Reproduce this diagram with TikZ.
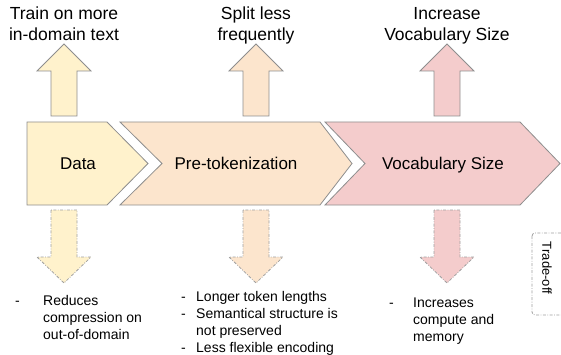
\documentclass[tikz,border=0pt]{standalone}
\usepackage{fontspec}
\setmainfont{Liberation Sans}
\usetikzlibrary{calc}

\definecolor{datafill}{HTML}{FFF2CC}
\definecolor{pretokfill}{HTML}{FCE5CD}
\definecolor{vocabfill}{HTML}{F4CCCC}
\definecolor{edgegray}{HTML}{8E8E8E}
\definecolor{dashgray}{HTML}{A0A0A0}

\tikzset{
  stage/.style={draw=edgegray, line width=0.8pt, line join=miter},
  dashdot/.style={draw=dashgray, line width=0.8pt, dash pattern=on 3pt off 1.5pt on 0.8pt off 1.5pt},
  toptext/.style={anchor=base, inner sep=0pt, font=\fontsize{17.5}{21}\selectfont},
  stagetext/.style={anchor=base, inner sep=0pt, font=\fontsize{17}{20}\selectfont},
  bullettext/.style={anchor=base west, inner sep=0pt, font=\fontsize{14}{17}\selectfont},
}

% block arrows: #1 = centre x, #2 = fill
\newcommand{\upblock}[2]{%
  \filldraw[stage, fill=#2] (#1-13,116) -- (#1-13,71) -- (#1-27,71) -- (#1,44)
    -- (#1+27,71) -- (#1+13,71) -- (#1+13,116) -- cycle;}
\newcommand{\downblock}[2]{%
  \filldraw[dashdot, fill=#2] (#1-13,210) -- (#1-13,257) -- (#1-27,257) -- (#1,283)
    -- (#1+27,257) -- (#1+13,257) -- (#1+13,210) -- cycle;}

\begin{document}
\begin{tikzpicture}[x=1pt, y=-1pt]
  \useasboundingbox (0,0) rectangle (561,355);

  % stages
  \filldraw[stage, fill=datafill] (27,122) -- (107,122) -- (148,163.5) -- (107,205) -- (27,205) -- cycle;
  \filldraw[stage, fill=pretokfill] (120,122) -- (320,122) -- (352,163.5) -- (320,205) -- (120,205) -- (162,163.5) -- cycle;
  \filldraw[stage, fill=vocabfill] (325,122) -- (520,122) -- (560,163.5) -- (520,205) -- (325,205) -- (365,163.5) -- cycle;
  \node[stagetext] (data) at (78,170) {Data};
  \node[stagetext] (pretok) at (236,170) {Pre-tokenization};
  \node[stagetext] (vocab) at (443,170) {Vocabulary Size};

  % up arrows and what they do
  \upblock{64}{datafill}
  \upblock{256}{pretokfill}
  \upblock{447}{vocabfill}
  \node[toptext] (dataup) at (64,20) {\begin{tabular}[t]{@{}c@{}}Train on more\\in-domain text\end{tabular}};
  \node[toptext] (pretokup) at (256,20) {\begin{tabular}[t]{@{}c@{}}Split less\\frequently\end{tabular}};
  \node[toptext] (vocabup) at (447,20) {\begin{tabular}[t]{@{}c@{}}Increase\\Vocabulary Size\end{tabular}};

  % down arrows and their costs
  \downblock{64}{datafill}
  \downblock{256}{pretokfill}
  \downblock{447}{vocabfill}
  \node[bullettext] (datadown) at (15,305) {\begin{tabular}[t]{@{}p{28pt}@{}l@{}}
    - & Reduces\\ & compression on\\ & out-of-domain\end{tabular}};
  \node[bullettext] (pretokdown) at (181,301) {\begin{tabular}[t]{@{}p{15pt}@{}l@{}}
    - & Longer token lengths\\ - & Semantical structure is\\ & not preserved\\ - & Less flexible encoding\end{tabular}};
  \node[bullettext] (vocabdown) at (389,307) {\begin{tabular}[t]{@{}p{24pt}@{}l@{}}
    - & Increases\\ & compute and\\ & memory\end{tabular}};

  % trade-off tag
  \draw[dashdot, rounded corners=3pt] (532,233) rectangle (570,315);
  \node[rotate=-90, inner sep=0pt, font=\fontsize{13}{16}\selectfont] (tradeoff) at (547,268) {Trade-off};
\end{tikzpicture}
\end{document}
